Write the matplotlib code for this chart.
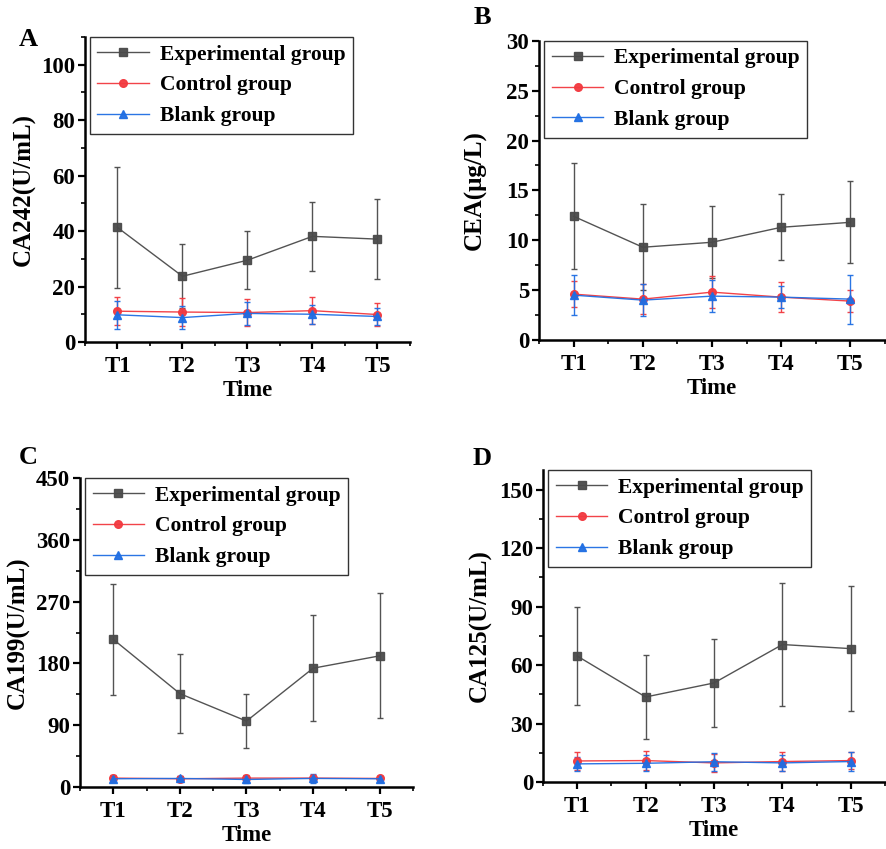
import matplotlib.pyplot as plt
from matplotlib.ticker import MultipleLocator

plt.rcParams['font.family'] = ['Liberation Serif', 'DejaVu Serif']
plt.rcParams['font.weight'] = 'bold'

times = ['T1', 'T2', 'T3', 'T4', 'T5']
groups = ['Experimental group', 'Control group', 'Blank group']

# panel A - CA242
ca242_exp = [41.3, 23.7, 29.5, 38.1, 37.1]
ca242_exp_sd = [21.7, 11.5, 10.5, 12.5, 14.3]
ca242_ctl = [11.1, 10.8, 10.6, 11.3, 9.9]
ca242_ctl_sd = [5.0, 5.0, 5.0, 4.8, 4.0]
ca242_blk = [9.8, 8.8, 10.3, 10.0, 9.2]
ca242_blk_sd = [5.0, 4.0, 4.0, 3.5, 3.0]

# panel B - CEA
cea_exp = [12.4, 9.3, 9.8, 11.3, 11.8]
cea_exp_sd = [5.3, 4.3, 3.6, 3.3, 4.1]
cea_ctl = [4.6, 4.1, 4.8, 4.3, 3.9]
cea_ctl_sd = [1.3, 1.5, 1.6, 1.5, 1.1]
cea_blk = [4.5, 4.0, 4.4, 4.3, 4.1]
cea_blk_sd = [2.0, 1.6, 1.6, 1.1, 2.45]

# panel C - CA199
ca199_exp = [215, 136, 96, 173, 191]
ca199_exp_sd = [81, 58, 39.5, 77, 91]
ca199_ctl = [13, 12, 13, 13, 12.5]
ca199_ctl_sd = [4, 4, 5, 5, 4]
ca199_blk = [12, 12.5, 11, 12.5, 12]
ca199_blk_sd = [4, 4, 5, 7, 4]

# panel D - CA125
ca125_exp = [64.6, 43.6, 50.8, 70.5, 68.4]
ca125_exp_sd = [25.0, 21.7, 22.6, 31.7, 32.0]
ca125_ctl = [10.8, 11.0, 9.8, 10.5, 11.0]
ca125_ctl_sd = [4.5, 5.0, 4.5, 5.0, 4.5]
ca125_blk = [9.3, 9.6, 10.4, 9.8, 10.5]
ca125_blk_sd = [3.5, 4.0, 4.5, 4.0, 5.0]

colors = ['#4a4a4a', '#f2393f', '#1f6ee3']
markers = ['s', 'o', '^']

panels = [
    ('A', 'CA242(U/mL)', 110, 20, 10, [ca242_exp, ca242_ctl, ca242_blk], [ca242_exp_sd, ca242_ctl_sd, ca242_blk_sd],
     [0.0959, 0.5972, 0.3668, 0.3592], (28, 40)),
    ('B', 'CEA(μg/L)', 30, 5, 2.5, [cea_exp, cea_ctl, cea_blk], [cea_exp_sd, cea_ctl_sd, cea_blk_sd],
     [0.6084, 0.5995, 0.3905, 0.3525], (482, 17)),
    ('C', 'CA199(U/mL)', 450, 90, 45, [ca199_exp, ca199_ctl, ca199_blk], [ca199_exp_sd, ca199_ctl_sd, ca199_blk_sd],
     [0.0903, 0.0730, 0.3758, 0.3640], (28, 457)),
    ('D', 'CA125(U/mL)', 160, 30, 15, [ca125_exp, ca125_ctl, ca125_blk], [ca125_exp_sd, ca125_ctl_sd, ca125_blk_sd],
     [0.6129, 0.0789, 0.3860, 0.3675], (482, 459)),
]

fig = plt.figure(figsize=(8.86, 8.49), dpi=100)
x = list(range(1, 6))

for letter, ylab, ymax, major, minor, series, errs, pos, lpos in panels:
    ax = fig.add_axes(pos)
    handles = []
    for vals, sd, c, m, name in zip(series, errs, colors, markers, groups):
        cont = ax.errorbar(x, vals, yerr=sd, color=c, marker=m, markersize=5.5, linewidth=1,
                           elinewidth=1, capsize=2.5, capthick=1, label=name, alpha=0.95)
        handles.append(cont[0])
    ax.set_xlim(0.5, 5.5)
    ax.set_ylim(0, ymax)
    ax.set_xticks(x)
    ax.set_xticklabels(times)
    ax.xaxis.set_minor_locator(MultipleLocator(0.5))
    ax.yaxis.set_major_locator(MultipleLocator(major))
    ax.yaxis.set_minor_locator(MultipleLocator(minor))
    ax.spines['top'].set_visible(False)
    ax.spines['right'].set_visible(False)
    ax.spines['left'].set_linewidth(1.8)
    ax.spines['bottom'].set_linewidth(1.8)
    ax.tick_params(which='major', direction='out', length=5, width=1.6, labelsize=16.5, pad=2)
    ax.tick_params(axis='x', which='major', pad=5)
    ax.tick_params(which='minor', direction='out', length=3, width=1.2)
    ax.set_xlabel('Time', fontsize=16.5, fontweight='bold', labelpad=2)
    ax.set_ylabel(ylab, fontsize=18, fontweight='bold')
    ax.yaxis.set_label_coords(-0.15, 0.5)
    leg = ax.legend(handles, groups, loc='upper left', bbox_to_anchor=(0.015, 1.0), fontsize=15.5,
                    frameon=True, fancybox=False, edgecolor='black', handlelength=2.4,
                    labelspacing=0.5, borderpad=0.35, handletextpad=0.5, borderaxespad=0)
    leg.get_frame().set_linewidth(1.0)
    fig.text(lpos[0] / 886, 1 - lpos[1] / 849, letter, fontsize=19, fontweight='bold',
             ha='center', va='center')

fig.savefig('out.png', dpi=100)
